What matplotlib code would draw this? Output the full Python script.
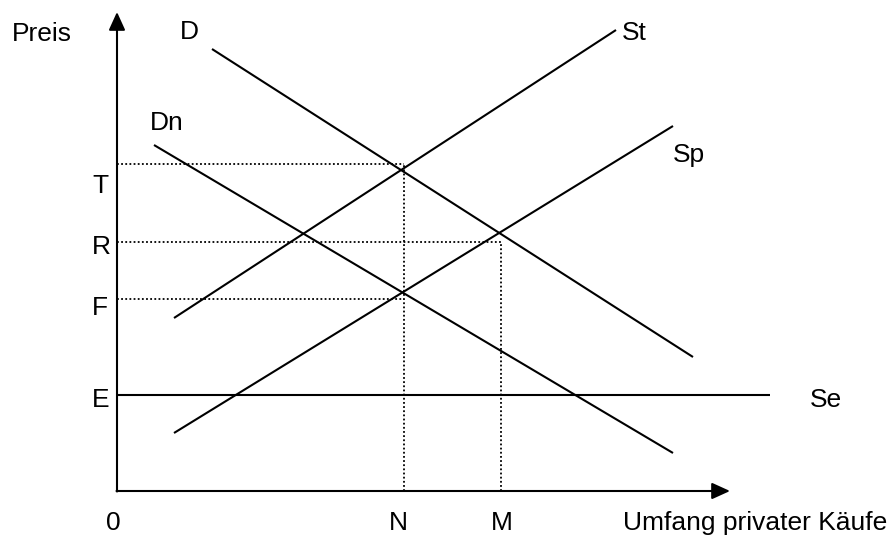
import matplotlib
matplotlib.use("Agg")
import matplotlib.pyplot as plt

plt.rcParams['font.family'] = ['Liberation Sans', 'DejaVu Sans']

# Coordinates in chart units (origin at the axes corner)
curve_names = ["D", "Dn", "St", "Sp"]
curve_x = [[95, 576], [37, 556], [57, 499], [57, 556]]
curve_y = [[442, 134], [346, 38], [173, 461], [58, 365]]

se_x = [0, 653]
se_y = [96, 96]

price_labels = ["T", "R", "F", "E"]
price_levels = [327, 249.5, 192, 96]
price_ends = [287, 383.5, 287, 0]

qty_labels = ["0", "N", "M"]
qty_values = [0, 287, 383.5]
qty_tops = [0, 327, 249.5]

x_axis_end = 613
y_axis_end = 479

fig = plt.figure(figsize=(8.88, 5.36), dpi=100)
ax = fig.add_axes([0, 0, 1, 1])
ax.set_xlim(-117, 771)
ax.set_ylim(-45, 491)
ax.axis('off')

lw = 1.5
for xs, ys in zip(curve_x, curve_y):
    ax.plot(xs, ys, color='black', lw=lw, solid_capstyle='butt')
ax.plot(se_x, se_y, color='black', lw=lw, solid_capstyle='butt')

# dotted guides
dot = (0, (1, 1.3))
for lvl, end in zip(price_levels[:3], price_ends[:3]):
    ax.plot([0, end], [lvl, lvl], color='black', lw=1.3, linestyle=dot)
for q, top in zip(qty_values[1:], qty_tops[1:]):
    ax.plot([q, q], [0, top], color='black', lw=1.3, linestyle=dot)

# axes with arrows
arrow = dict(arrowstyle='-|>,head_length=1.1,head_width=0.5', lw=lw, color='black',
             shrinkA=0, shrinkB=0, mutation_scale=10)
ax.annotate('', xy=(0, y_axis_end), xytext=(0, -0.5), arrowprops=arrow)
ax.annotate('', xy=(x_axis_end, 0), xytext=(-0.5, 0), arrowprops=arrow)

fs = 19
# price labels (baselines)
label_base_y = [298, 237, 176, 84]
for lab, by in zip(price_labels, label_base_y):
    ax.text(-25, by, lab, fontsize=fs, ha='left', va='baseline')

ax.text(-105, 450, "Preis", fontsize=fs, ha='left', va='baseline')

# curve labels
ax.text(63, 452, "D", fontsize=fs, ha='left', va='baseline')
ax.text(33, 361, "Dn", fontsize=fs, ha='left', va='baseline')
ax.text(505, 451, "St", fontsize=fs, ha='left', va='baseline')
ax.text(556, 329, "Sp", fontsize=fs, ha='left', va='baseline')
ax.text(693, 84, "Se", fontsize=fs, ha='left', va='baseline')

# quantity labels
qty_label_shift = [-4, -6, 1]
for lab, q, s in zip(qty_labels, qty_values, qty_label_shift):
    ax.text(q + s, -39, lab, fontsize=fs, ha='center', va='baseline')
ax.text(505.5, -39, "Umfang privater Käufe", fontsize=fs, ha='left', va='baseline')

fig.savefig("out.png", dpi=100, facecolor='white')
